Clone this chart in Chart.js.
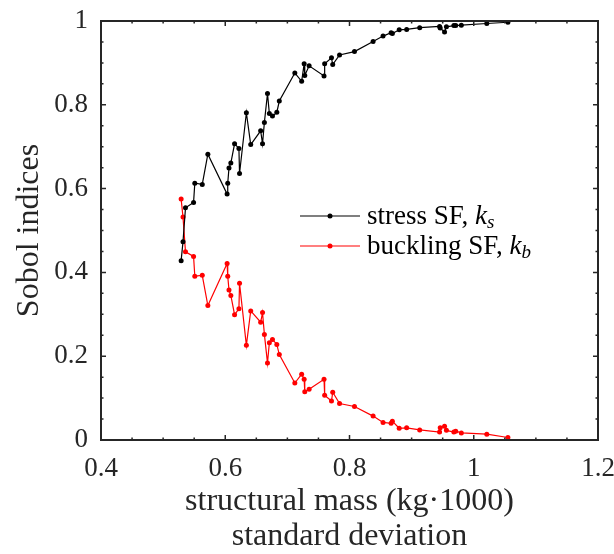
<!DOCTYPE html>
<html>
<head>
<meta charset="utf-8">
<script src="https://cdn.jsdelivr.net/npm/chart.js@4.4.1/dist/chart.umd.min.js"></script>
<style>
  html, body { margin: 0; padding: 0; background: #fff; }
  #wrap { width: 614px; height: 554px; }
</style>
</head>
<body>
<div id="wrap"><canvas id="grafico"></canvas></div>
<script>
// Desvio padrão da massa estrutural (eixo x)
const massaDesvio = [
  0.529, 0.532, 0.536, 0.549, 0.551, 0.563, 0.572, 0.603, 0.604, 0.606,
  0.609, 0.615, 0.622, 0.623, 0.634, 0.641, 0.657, 0.660, 0.663, 0.668,
  0.671, 0.676, 0.683, 0.687, 0.712, 0.723, 0.727, 0.728, 0.735, 0.759,
  0.760, 0.771, 0.773, 0.784, 0.808, 0.838, 0.854, 0.867, 0.869, 0.880,
  0.892, 0.913, 0.945, 0.946, 0.953, 0.956, 0.968, 0.971, 0.980, 1.021,
  1.055
];

// Índices de Sobol - fator de segurança de tensão (k_s)
const indiceTensao = [
  0.428, 0.473, 0.554, 0.567, 0.613, 0.610, 0.682, 0.587, 0.613, 0.649,
  0.661, 0.707, 0.696, 0.636, 0.781, 0.705, 0.738, 0.707, 0.758, 0.827,
  0.779, 0.773, 0.782, 0.809, 0.876, 0.856, 0.898, 0.870, 0.893, 0.869,
  0.898, 0.912, 0.896, 0.919, 0.927, 0.951, 0.964, 0.972, 0.970, 0.979,
  0.980, 0.984, 0.987, 0.983, 0.974, 0.986, 0.989, 0.989, 0.990, 0.994,
  0.997
];

// Índices de Sobol - fator de segurança de flambagem (k_b)
const indiceFlambagem = [
  0.575, 0.532, 0.449, 0.438, 0.391, 0.393, 0.321, 0.421, 0.391, 0.358,
  0.345, 0.299, 0.313, 0.374, 0.226, 0.308, 0.281, 0.304, 0.252, 0.184,
  0.232, 0.240, 0.228, 0.204, 0.136, 0.157, 0.145, 0.115, 0.121, 0.145,
  0.107, 0.093, 0.114, 0.087, 0.080, 0.057, 0.042, 0.040, 0.045, 0.028,
  0.029, 0.024, 0.019, 0.029, 0.033, 0.023, 0.019, 0.021, 0.017, 0.014,
  0.006
];

const ticksX = [0.4, 0.6, 0.8, 1, 1.2];
const ticksY = [0, 0.2, 0.4, 0.6, 0.8, 1];

const fonte = "'Liberation Serif', 'DejaVu Serif', serif";
const corEixo = '#262626';

const pontos = ys => massaDesvio.map((x, i) => ({ x, y: ys[i] }));
const fmt = v => String(Number(v.toFixed(2)));

// Caixa, marcas internas e legenda (estilo MATLAB)
const molduraPlugin = {
  id: 'moldura',
  afterDraw(chart) {
    const c = chart.ctx;
    const a = chart.chartArea;
    const sx = chart.scales.x, sy = chart.scales.y;
    c.save();
    c.setLineDash([]);
    c.globalAlpha = 1;
    c.strokeStyle = corEixo;
    c.lineWidth = 1.5;

    // marcas menores a cada 0.05, maiores a cada 0.2
    c.beginPath();
    for (let i = 0; i <= 16; i++) {
      const px = sx.getPixelForValue(0.4 + i * 0.05);
      const len = i % 4 === 0 ? 5 : 2.5;
      c.moveTo(px, a.bottom); c.lineTo(px, a.bottom - len);
      c.moveTo(px, a.top); c.lineTo(px, a.top + len);
    }
    for (let i = 0; i <= 20; i++) {
      const py = sy.getPixelForValue(i * 0.05);
      const len = i % 4 === 0 ? 5 : 2.5;
      c.moveTo(a.left, py); c.lineTo(a.left + len, py);
      c.moveTo(a.right, py); c.lineTo(a.right - len, py);
    }
    c.stroke();

    c.lineWidth = 2;
    c.strokeRect(a.left, a.top, a.right - a.left, a.bottom - a.top);

    // legenda
    const itens = [
      { cor: '#000000', texto: 'stress SF, ', sub: 's' },
      { cor: '#ff0000', texto: 'buckling SF, ', sub: 'b' }
    ];
    const lx = a.left + 199, ly = a.top + 195;
    itens.forEach((it, i) => {
      const y = ly + i * 30;
      c.strokeStyle = it.cor;
      c.fillStyle = it.cor;
      c.lineWidth = 1.2;
      c.beginPath();
      c.moveTo(lx, y); c.lineTo(lx + 60, y);
      c.stroke();
      c.beginPath();
      c.arc(lx + 30, y, 2.5, 0, Math.PI * 2);
      c.fill();

      c.fillStyle = '#000';
      c.textBaseline = 'alphabetic';
      c.textAlign = 'left';
      c.font = `27px ${fonte}`;
      let tx = lx + 67;
      const base = y + 8;
      c.fillText(it.texto, tx, base);
      tx += c.measureText(it.texto).width;
      c.font = `italic 27px ${fonte}`;
      c.fillText('k', tx, base);
      tx += c.measureText('k').width;
      c.font = `italic 19px ${fonte}`;
      c.fillText(it.sub, tx, base + 4);
    });
    c.restore();
  }
};

const grafico = new Chart(document.getElementById('grafico'), {
  type: 'scatter',
  data: {
    datasets: [
      {
        label: 'stress SF, k_s',
        data: pontos(indiceTensao),
        showLine: true,
        borderColor: '#000000',
        backgroundColor: '#000000',
        borderWidth: 1.2,
        pointRadius: 2.5,
        pointBorderWidth: 0
      },
      {
        label: 'buckling SF, k_b',
        data: pontos(indiceFlambagem),
        showLine: true,
        borderColor: '#ff0000',
        backgroundColor: '#ff0000',
        borderWidth: 1.2,
        pointRadius: 2.5,
        pointBorderWidth: 0
      }
    ]
  },
  options: {
    responsive: true,
    maintainAspectRatio: false,
    animation: false,
    layout: { padding: { left: 0, right: 16, top: 21, bottom: 0 } },
    plugins: {
      legend: { display: false },
      tooltip: { enabled: false }
    },
    scales: {
      x: {
        type: 'linear',
        min: 0.4,
        max: 1.2,
        afterBuildTicks: s => { s.ticks = ticksX.map(v => ({ value: v })); },
        afterFit: s => { s.height = 114; s.paddingLeft = 0; s.paddingRight = 0; },
        grid: { display: false },
        border: { display: false },
        ticks: {
          callback: v => fmt(v),
          color: corEixo,
          padding: 5,
          maxRotation: 0,
          font: { family: fonte, size: 27 }
        },
        title: {
          display: true,
          text: ['structural mass (kg·1000)', 'standard deviation'],
          color: corEixo,
          padding: 0,
          font: { family: fonte, size: 32, lineHeight: 1.1 }
        }
      },
      y: {
        type: 'linear',
        min: 0,
        max: 1,
        afterBuildTicks: s => { s.ticks = ticksY.map(v => ({ value: v })); },
        afterFit: s => { s.width = 101; s.paddingTop = 0; s.paddingBottom = 0; },
        grid: { display: false },
        border: { display: false },
        ticks: {
          callback: v => fmt(v),
          color: corEixo,
          padding: 5,
          font: { family: fonte, size: 27 }
        },
        title: {
          display: true,
          text: 'Sobol indices',
          color: corEixo,
          padding: { top: 10, bottom: 0 },
          font: { family: fonte, size: 32, lineHeight: 1.2 }
        }
      }
    }
  },
  plugins: [molduraPlugin]
});
</script>
</body>
</html>
